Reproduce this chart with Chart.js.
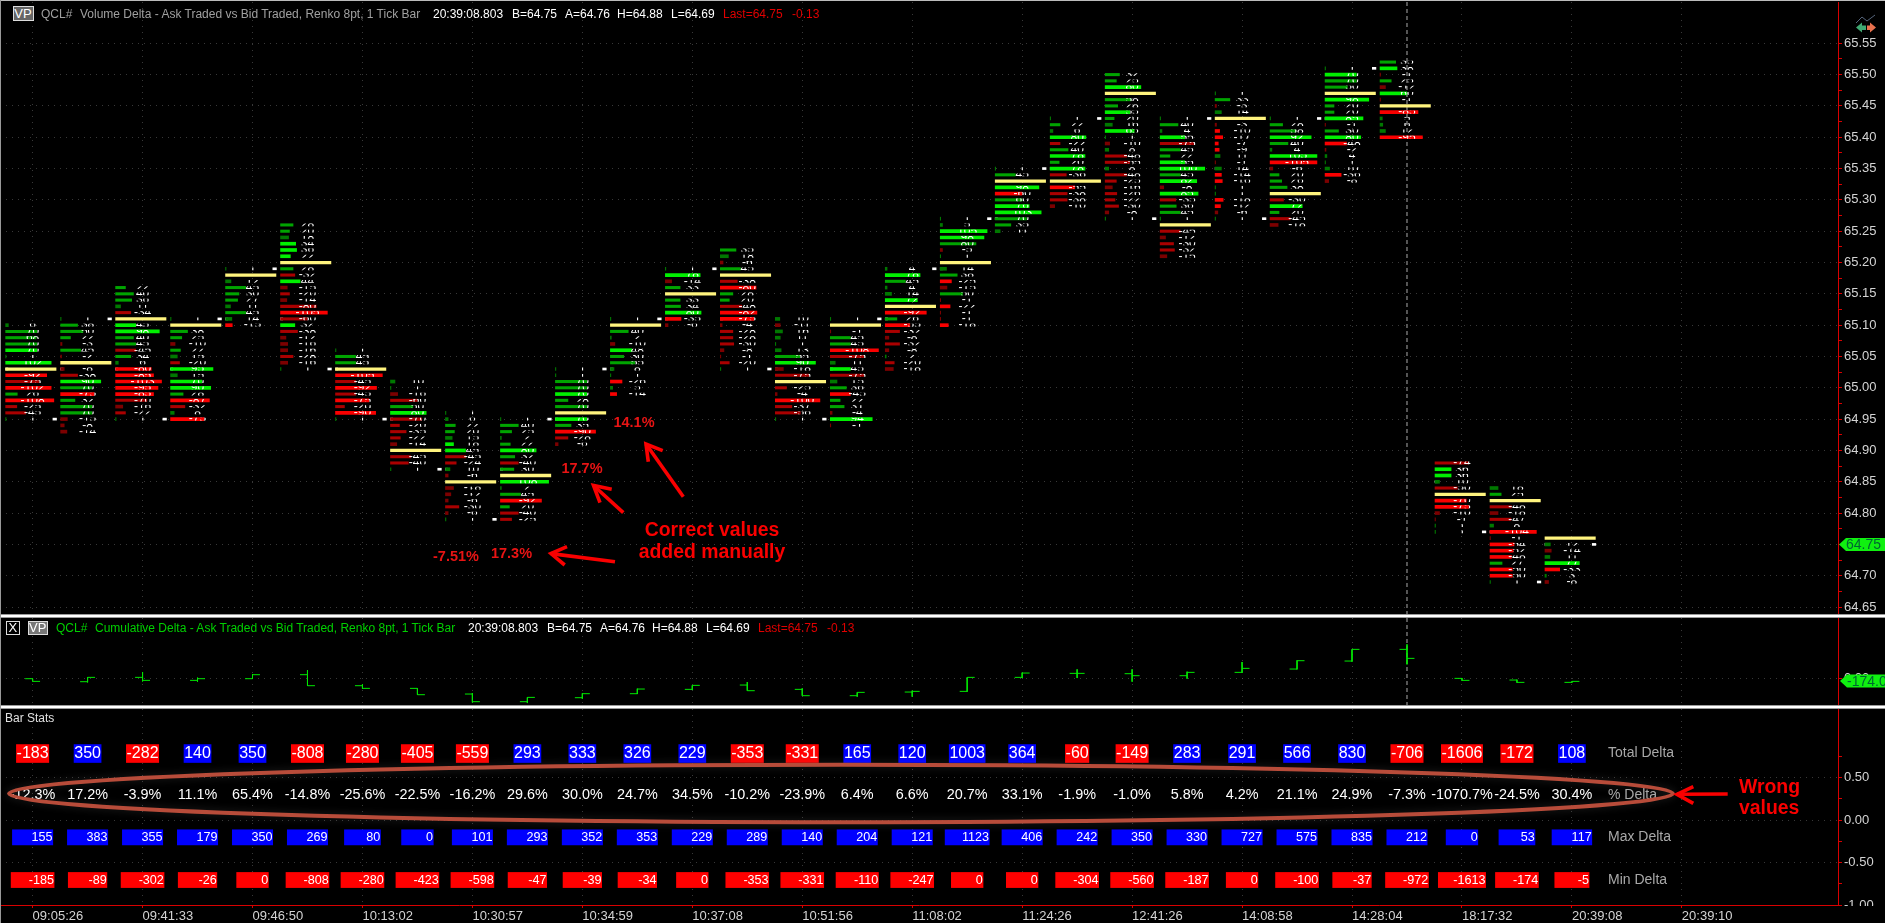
<!DOCTYPE html>
<html><head><meta charset="utf-8"><title>QCL# Volume Delta</title>
<script src="https://cdn.jsdelivr.net/npm/chart.js@4"></script>
<style>
html,body{margin:0;padding:0;background:#000;width:1885px;height:923px;overflow:hidden}
canvas{position:absolute;left:0;display:block}
.t{position:absolute;white-space:pre;font:12px "Liberation Sans",Arial,sans-serif;line-height:16px;height:16px}
.sep{position:absolute;left:0;width:1885px;height:2px;background:#fff;border-top:1px solid #999;border-bottom:1px solid #999}
.box{position:absolute;box-sizing:border-box;text-align:center;font:13px/13px "Liberation Sans",Arial,sans-serif;color:#fff}
</style></head><body>
<canvas id="main" width="1885" height="612" style="top:2px"></canvas>
<canvas id="delta" width="1885" height="87" style="top:618px"></canvas>
<canvas id="stats" width="1885" height="214" style="top:709px"></canvas>
<div class="sep" style="top:614px"></div>
<div class="sep" style="top:705px"></div>
<div style="position:absolute;left:0;top:0;width:1885px;height:1px;background:#bbb"></div>
<div style="position:absolute;left:0;top:0;width:1px;height:923px;background:#999"></div>
<div id="hdr"></div>
<svg style="position:absolute;left:1850px;top:10px" width="35" height="28" viewBox="0 0 35 28">
<polyline points="6,13 12,7 17,11 25,5" fill="none" stroke="#56657c" stroke-width="1"/>
<polygon points="6,17.5 12,12.5 12,15.5 16,15.5 16,20 12,20 12,22.5" fill="#3fa872"/>
<polygon points="26,17.5 20,12.5 20,15.5 17,15.5 17,20 20,20 20,22.5" fill="#e8714e"/>
</svg>
<script>
// ---------- data ----------
const barTimes=["09:05:26","09:41:33","09:46:50","10:13:02","10:30:57","10:34:59","10:37:08","10:51:56","11:08:02","11:24:26","12:41:26","14:08:58","14:28:04","18:17:32","20:39:08","20:39:10"];
const priceTicks=[64.65,64.70,64.75,64.80,64.85,64.90,64.95,65.00,65.05,65.10,65.15,65.20,65.25,65.30,65.35,65.40,65.45,65.50,65.55];
const statsTicks=[-1,-0.5,0,0.5];
const deltaTicks=[0];
const totalDelta=[-183,350,-282,140,350,-808,-280,-405,-559,293,333,326,229,-353,-331,165,120,1003,364,-60,-149,283,291,566,830,-706,-1606,-172,108];
const pctDelta=[-12.3,17.2,-3.9,11.1,65.4,-14.8,-25.6,-22.5,-16.2,29.6,30.0,24.7,34.5,-10.2,-23.9,6.4,6.6,20.7,33.1,-1.9,-1.0,5.8,4.2,21.1,24.9,-7.3,-1070.7,-24.5,30.4];
const maxDelta=[155,383,355,179,350,269,80,0,101,293,352,353,229,289,140,204,121,1123,406,242,350,330,727,575,835,212,0,53,117];
const minDelta=[-185,-89,-302,-26,0,-808,-280,-423,-598,-47,-39,-34,0,-353,-331,-110,-247,0,0,-304,-560,-187,0,-100,-37,-972,-1613,-174,-5];
const cumOpen=[0,-222,99,-123,0,296,-518,-715,-1135,-1702,-1406,-1110,-789,-469,-789,-1258,-987,-937,99,395,370,222,469,715,1307,2171,25,-99,-271];
const cumHigh=[0,99,493,74,345,641,-419,-715,-1061,-1382,-1085,-740,-493,-247,-715,-1011,-888,99,444,691,691,518,1234,1357,2171,2541,49,-74,-197];
const cumLow=[-197,-271,-197,-222,0,-518,-740,-1184,-1752,-1801,-1480,-1135,-839,-888,-1258,-1332,-1332,-962,49,49,-222,0,444,691,1258,1061,-148,-296,-296];
const cumClose=[-197,99,-123,0,296,-518,-715,-1184,-1702,-1382,-1110,-765,-493,-888,-1258,-1011,-937,99,419,395,222,469,765,1332,2171,1505,-123,-271,-197];
const barTops=[65.10,65.11,65.16,65.11,65.19,65.26,65.06,65.01,64.96,64.95,65.03,65.11,65.19,65.22,65.11,65.11,65.19,65.27,65.35,65.43,65.50,65.43,65.47,65.43,65.51,65.52,64.88,64.84,64.76];
const barRows=[
"g6 g70 g68 g70 G70 g1 G102 Y R92 r75 R102 g26 R108 r25 r45 g1",
"g1 g38 g50 g22 r3 g45 r2 Y r8 r38 G90 g70 R75 g32 g70 g70 r15 r8 r14",
"g22 g40 g36 g11 r34 Y G45 G98 g40 g45 r45 g34 g6 R80 R85 R103 R95 R85 r70 r16 r22 g1",
"g1 Y g38 g25 r10 g22 g15 r20 G95 g15 G70 G90 g28 R87 r32 g8 R75",
"g1 Y g12 g45 g30 g27 g11 g45 g14 R15",
"g28 g20 g18 G34 G36 G22 Y g28 r32 G44 r15 r20 r14 r80 R105 r60 G32 r38 r12 r16 r16 r28 r16 g1",
"g1 g45 g45 Y R105 r45 R92 r45 R75 r20 R90 g1",
"g10 g1 r16 r60 g50 G80 r70 r20 r35 r22 r14 Y r45 r40 g1",
"g1 g6 g22 g20 g15 G18 G45 r45 r24 g10 r6 Y r18 r12 r6 r30 r6 g1",
"g1 g40 g25 g2 g22 G80 g32 r40 g30 Y G108 g2 g45 R92 g20 r40 r25",
"g1 g1 g70 g70 G70 g28 g70 Y G70 g35 R90 r28 r6",
"g1 Y g40 g2 r10 G48 g30 g55 g8 g1 R26 g5 R14",
"g1 G78 r14 g33 Y g33 g34 G80 R35 r6",
"g35 g18 r6 g45 Y r38 R80 g28 g20 r48 R82 R75 r4 r28 r28 r30 r8 r1 r20 g1",
"g10 r11 g16 g11 g1 g13 g55 G90 r18 r75 Y r25 r4 R100 r37 r56 g1",
"g1 Y r1 g45 g45 R108 r75 g11 G45 r75 g15 g36 R45 g22 g31 r4 G94 r1",
"g4 G78 g45 g4 g14 G72 Y R92 g26 R55 r32 r8 r32 r8 g2 r20 r18",
"g1 g5 G105 G98 g80 r5 g1 Y g14 g38 R25 r15 g50 r1 R22 r1 r1 R18",
"g1 g45 Y G98 R60 g60 G76 G103 g70 g35 g11",
"g1 g22 g6 G80 r22 g40 G78 g20 G78 r36 Y R55 r38 r38 r10",
"g32 g25 G80 Y g58 g28 G55 g20 g16 G65 g1 r10 g8 r48 r55 g8 r48 r25 r16 r26 r22 r30 r8 g1",
"g1 g40 g4 G55 r75 g45 g22 G55 G100 g45 G82 r8 G85 r35 g36 g45 g1 Y r45 r12 r30 r32 r15",
"g1 g33 r3 g14 Y r3 R10 R17 R7 R9 g11 r1 g14 R14 R16 g1 g1 R18 R12 r6 g1",
"g1 g28 g58 G92 g40 g4 G105 R105 r6 g20 g26 g38 Y r30 G72 g20 r45 r18",
"g1 G70 g70 g50 Y G98 g20 g20 G85 r1 g30 G80 R48 r2 g4 g1 g10 R36 r8",
"g35 G38 r1 g25 r12 G60 r1 Y R85 g5 g6 g12 R95",
"r74 G36 G36 g10 r50 Y R70 R75 r10 r1 g1 g1",
"g18 g25 Y r48 r18 r47 g8 R104 r1 R54 R52 R48 g27 R50 R50 g1",
"Y g12 r14 g11 G77 R33 g3 r8"];
const openMarks=[65.03,65.03,65.03,65.03,65.11,65.11,65.03,64.95,64.87,64.87,64.95,65.03,65.11,65.11,65.03,65.03,65.11,65.19,65.27,65.35,65.35,65.35,65.35,65.35,65.43,null,64.85,64.77,64.75];
const closeMarks=[64.95,65.11,64.95,65.11,65.19,65.03,64.95,64.87,64.79,64.95,65.03,65.11,65.19,65.03,64.95,65.11,65.19,65.27,65.35,65.43,65.27,65.43,65.27,65.43,65.51,null,64.77,64.69,64.75];
const lastPrice=64.75, lastCum=-174, cursorBar=25;
const mainTitle=[["QCL#",41,"#a0a0a0"],["Volume Delta - Ask Traded vs Bid Traded, Renko 8pt, 1 Tick Bar",80,"#a0a0a0"],["20:39:08.803",433,"#fff"],["B=64.75",512,"#fff"],["A=64.76",565,"#fff"],["H=64.88",617,"#fff"],["L=64.69",671,"#fff"],["Last=64.75",723,"#e00000"],["-0.13",792,"#e00000"]];
const cumTitle=[["QCL#",56,"#00d000"],["Cumulative Delta - Ask Traded vs Bid Traded, Renko 8pt, 1 Tick Bar",95,"#00d000"],["20:39:08.803",468,"#fff"],["B=64.75",547,"#fff"],["A=64.76",600,"#fff"],["H=64.88",652,"#fff"],["L=64.69",706,"#fff"],["Last=64.75",758,"#e00000"],["-0.13",827,"#e00000"]];
const rowNames=["Total Delta","% Delta","Max Delta","Min Delta"];
const rowLevels=[0.782,0.294,-0.204,-0.706];

// ---------- shared look ----------
const FONT='"Liberation Sans",Arial,sans-serif';
const XMIN=-0.593,XMAX=32.84,BAR_START=-0.49,UNIT=0.00811;
const DOT='rgba(80,80,80,.7)',AXIS='#d80000',TXT='#d4d4d4';
Chart.defaults.font.family=FONT;
const xTicks=barTimes.map((_,k)=>k*2);
const isMajor=(v,list)=>list.some(t=>Math.abs(t-v)<1e-6);
function noPad(s){s.paddingTop=0;s.paddingBottom=0;s.paddingLeft=0;s.paddingRight=0;}
function xAxis(show){return {type:'linear',min:XMIN,max:XMAX,offset:false,
  afterBuildTicks:s=>{s.ticks=xTicks.map(v=>({value:v}))},
  afterFit:s=>{s.height=show?18:0;noPad(s);},
  border:{display:show,color:AXIS,dash:[1,5]},
  grid:{offset:false,color:DOT,drawTicks:show,tickLength:3,tickColor:AXIS,tickBorderDash:[]},
  ticks:{display:show,color:TXT,font:{size:13},align:'start',padding:1,maxRotation:0,autoSkip:false,
    callback:(v)=>barTimes[v/2]}};}
function yAxis(min,max,all,labelled,gridOn){return {type:'linear',position:'right',min,max,offset:false,
  afterBuildTicks:s=>{s.ticks=all.map(v=>({value:v}))},
  afterFit:s=>{s.width=47;noPad(s);},
  border:{color:AXIS,dash:[1,5]},
  grid:{offset:false,tickLength:4,tickColor:AXIS,tickBorderDash:[],
    color:c=>(c.tick&&isMajor(c.tick.value,gridOn))?DOT:'rgba(0,0,0,0)'},
  ticks:{color:TXT,font:{size:13},padding:2,autoSkip:false,maxRotation:0,
    callback:v=>isMajor(v,labelled)?v.toFixed(2):''}};}
const withMinor=(list,step)=>{const o=[];list.forEach(v=>{o.push(v);o.push(+(v+step).toFixed(3));});return o;};

// ---------- footprint bars ----------
const COL={G:'#00f000',g:'#00a400',d:'#007800',R:'#fa0000',r:'#aa0000',D:'#7c0000',Y:'#fff47e',W:'#ffffff'};
const THICK={G:3,g:2.4,d:3,R:3,r:2.4,D:3,Y:2.6,W:2};
const seg={G:[],g:[],d:[],R:[],r:[],D:[],Y:[],W:[]};
const rowText=[];
barRows.forEach((s,i)=>{
  const left=i+BAR_START;
  s.split(' ').forEach((tok,k)=>{
    const p=+(barTops[i]-k*0.01).toFixed(2),code=tok[0];
    if(code==='Y'){seg.Y.push({x:[left,left+113*UNIT],y:p});return;}
    const n=+tok.slice(1);
    let key=code;
    if(code==='g'&&n<20)key='d';
    if(code==='r'&&n<20)key='D';
    seg[key].push({x:[left,left+n*UNIT],y:p});
    rowText.push({i,p,t:(code==='r'||code==='R'?'-':'')+n});
  });
});
openMarks.forEach((p,i)=>{if(p!==null)seg.W.push({x:[i+BAR_START,i+BAR_START+5*UNIT],y:p});});
closeMarks.forEach((p,i)=>{if(p!==null)seg.W.push({x:[i+BAR_START+106*UNIT,i+BAR_START+114*UNIT],y:p});});

function arrow(c,tail,tip,w1,w2,lw,col){c.save();c.strokeStyle=col;c.lineWidth=lw;c.lineJoin='miter';
  c.beginPath();c.moveTo(...tail);c.lineTo(...tip);c.stroke();
  c.beginPath();c.moveTo(...w1);c.lineTo(...tip);c.lineTo(...w2);c.stroke();c.restore();}
function flag(c,x,y,txt){c.save();c.fillStyle='#10f010';c.beginPath();c.moveTo(x,y);c.lineTo(x+7,y-6.5);c.lineTo(1885,y-6.5);c.lineTo(1885,y+6.5);c.lineTo(x+7,y+6.5);c.closePath();c.fill();
  c.fillStyle='#063';c.font='14px '+FONT;c.textAlign='left';c.textBaseline='middle';c.fillText(txt,x+7,y+1);c.restore();}
function cursor(ch){const c=ch.ctx,x=ch.scales.x.getPixelForValue(cursorBar);c.save();c.strokeStyle='#aaa';c.setLineDash([4,3]);c.lineWidth=1;c.beginPath();c.moveTo(x,0);c.lineTo(x,ch.height);c.stroke();c.restore();}

// ---------- main pane ----------
const TOP=2; // canvas offset on page
const mainPlugin={id:'mainExtras',
 beforeDatasetsDraw:cursor,
 afterDatasetsDraw(ch){
  const c=ch.ctx,X=ch.scales.x,Y=ch.scales.y;
  // clipped per-row volume numbers
  c.save();c.fillStyle='#fff';c.font='12px '+FONT;c.textAlign='center';c.textBaseline='middle';
  rowText.forEach(r=>{const x=X.getPixelForValue(r.i),y=Y.getPixelForValue(r.p);
    c.save();c.beginPath();c.rect(x-22,y-1.4,44,2.8);c.clip();c.fillText(r.t,x,y);c.restore();});
  c.restore();
 },
 afterDraw(ch){
  const c=ch.ctx;c.save();c.textBaseline='middle';c.textAlign='center';
  c.fillStyle='#e81414';c.font='bold 14.5px '+FONT;
  [["14.1%",634,423],["17.7%",582,469],["17.3%",511.5,554],["-7.51%",456,557]].forEach(a=>c.fillText(a[0],a[1],a[2]-TOP));
  c.fillStyle='#fa0000';c.font='bold 19.4px '+FONT;
  c.fillText("Correct values",712,531-TOP);c.fillText("added manually",712,553-TOP);
  c.restore();
  const o=p=>[p[0],p[1]-TOP];
  arrow(c,o([683.3,496.7]),o([646,444]),o([648.3,461.7]),o([662.7,450.7]),3.6,'#fa0000');
  arrow(c,o([623.3,512.7]),o([593.5,485.5]),o([600,502.7]),o([611.7,489.3]),3.6,'#fa0000');
  arrow(c,o([615,561.7]),o([551,553.6]),o([567,546.7]),o([564.7,565]),3.6,'#fa0000');
  flag(c,1839,ch.scales.y.getPixelForValue(lastPrice),lastPrice.toFixed(2));
 }};
new Chart(document.getElementById('main'),{type:'bar',
 data:{datasets:Object.keys(seg).map(k=>({label:k,data:seg[k],backgroundColor:COL[k],barThickness:THICK[k],grouped:false,borderWidth:0}))},
 options:{indexAxis:'y',responsive:false,animation:false,devicePixelRatio:1,layout:{padding:0},
  plugins:{legend:{display:false},tooltip:{enabled:false}},
  scales:{x:xAxis(false),y:yAxis(64.6389,65.6159,withMinor(priceTicks,0.025).filter(v=>v<65.56),priceTicks,priceTicks)}},
 plugins:[mainPlugin]});

// ---------- cumulative delta pane ----------
const stepPts=[];
cumOpen.forEach((o,i)=>{
  stepPts.push({x:i-0.136,y:o},{x:i,y:o},{x:NaN,y:NaN},
    {x:i,y:cumHigh[i]},{x:i,y:cumLow[i]},{x:NaN,y:NaN},
    {x:i,y:cumClose[i]},{x:i+0.136,y:cumClose[i]},{x:NaN,y:NaN});
});
new Chart(document.getElementById('delta'),{type:'scatter',
 data:{datasets:[{data:stepPts,showLine:true,spanGaps:false,borderColor:'#00e800',borderWidth:1,pointRadius:0}]},
 options:{responsive:false,animation:false,devicePixelRatio:1,layout:{padding:0},
  plugins:{legend:{display:false},tooltip:{enabled:false}},
  scales:{x:xAxis(false),y:yAxis(-1946,4492,deltaTicks,deltaTicks,deltaTicks)}},
 plugins:[{id:'deltaExtras',beforeDatasetsDraw:cursor,afterDraw(ch){flag(ch.ctx,1840,ch.scales.y.getPixelForValue(lastCum),lastCum.toFixed(2));}}]});

// ---------- bar stats pane ----------
const rows=[totalDelta,pctDelta,maxDelta,minDelta];
const STOP=709;
const statsPlugin={id:'statsExtras',
 afterDatasetsDraw(ch){
  const c=ch.ctx;
  c.save();c.textBaseline='middle';
  c.fillStyle='#e0e0e0';c.font='12px '+FONT;c.textAlign='left';c.fillText('Bar Stats',5,718.7-STOP);
  const m=i=>ch.getDatasetMeta(i).data;
  // total delta
  c.font='16px '+FONT;c.textAlign='center';
  totalDelta.forEach((v,k)=>{const p=m(0)[k],t=String(v),w=c.measureText(t).width;
    c.fillStyle=v<0?'#ff0000':'#0000ff';c.fillRect(p.x-w/2-.5,p.y-9.3,w+1,18.6);
    c.fillStyle='#fff';c.fillText(t,p.x,p.y+.5);});
  // % delta
  c.font='14.4px '+FONT;c.fillStyle='#fff';
  pctDelta.forEach((v,k)=>{const p=m(1)[k];c.fillText(v.toFixed(1)+'%',p.x,p.y);});
  // max / min
  c.font='12.6px '+FONT;c.textAlign='right';
  [[2,maxDelta,'#0000ff'],[3,minDelta,'#ff0000']].forEach(([d,vals,col])=>{
    vals.forEach((v,k)=>{const p=m(d)[k],t=String(v),tw=c.measureText(t).width,w=Math.max(31,28+.62*tw);
      c.fillStyle=col;c.fillRect(p.x-w/2,p.y-7.9,w,15.8);
      c.fillStyle='#fff';c.fillText(t,p.x+w/2-.5,p.y+.5);});});
  // row names
  c.font='14px '+FONT;c.textAlign='left';c.fillStyle='#a8a8a8';
  rowNames.forEach((n,d)=>c.fillText(n,1608,m(d)[0].y));
  // highlight ring
  c.save();c.strokeStyle='#b84c3a';c.lineWidth=4;c.shadowColor='rgba(255,255,255,.14)';c.shadowBlur=9;
  c.beginPath();c.ellipse(841,793.5-STOP,832,28.8,0,0,Math.PI*2);c.stroke();c.restore();
  const o=p=>[p[0],p[1]-STOP];
  arrow(c,o([1727.7,794]),o([1677,794.3]),o([1693.3,786.7]),o([1693.3,803.3]),3.6,'#fa0000');
  c.fillStyle='#fa0000';c.font='bold 19.4px '+FONT;c.textAlign='left';
  c.fillText('Wrong',1739,788-STOP);c.fillText('values',1739,809-STOP);
  c.restore();
 },
 afterDraw(ch){const c=ch.ctx;c.fillStyle='#000';c.fillRect(1839,ch.chartArea.bottom+1,46,30);}};
new Chart(document.getElementById('stats'),{type:'scatter',
 data:{datasets:rows.map((r,d)=>({label:rowNames[d],data:r.map((v,k)=>({x:k,y:rowLevels[d]})),pointRadius:0}))},
 options:{responsive:false,animation:false,devicePixelRatio:1,layout:{padding:0},
  plugins:{legend:{display:false},tooltip:{enabled:false}},
  scales:{x:xAxis(true),y:yAxis(-1,1.306,withMinor(statsTicks,0.25).filter(v=>v<0.76),statsTicks,statsTicks.filter(v=>v>-1))}},
 plugins:[statsPlugin]});

// ---------- pane titles ----------
const hdr=document.getElementById('hdr');
function addText(list,cy){list.forEach(([s,x,col])=>{const d=document.createElement('div');d.className='t';d.textContent=s;d.style.left=x+'px';d.style.top=(cy-8)+'px';d.style.color=col;hdr.appendChild(d);});}
function addBox(s,x0,x1,y0,y1,bg,bc){const d=document.createElement('div');d.className='box';d.textContent=s;
  d.style.cssText+=`left:${x0}px;top:${y0}px;width:${x1-x0}px;height:${y1-y0}px;line-height:${y1-y0-2}px;background:${bg};border:1px solid ${bc}`;hdr.appendChild(d);}
addText(mainTitle,13.5);addText(cumTitle,627.5);
addBox('VP',12.5,33.5,6,21,'#666','#ddd');
addBox('X',5.5,20,621,634.5,'#000','#ddd');
addBox('VP',27.5,48,621,634.5,'#777','#ddd');
</script>
</body></html>
